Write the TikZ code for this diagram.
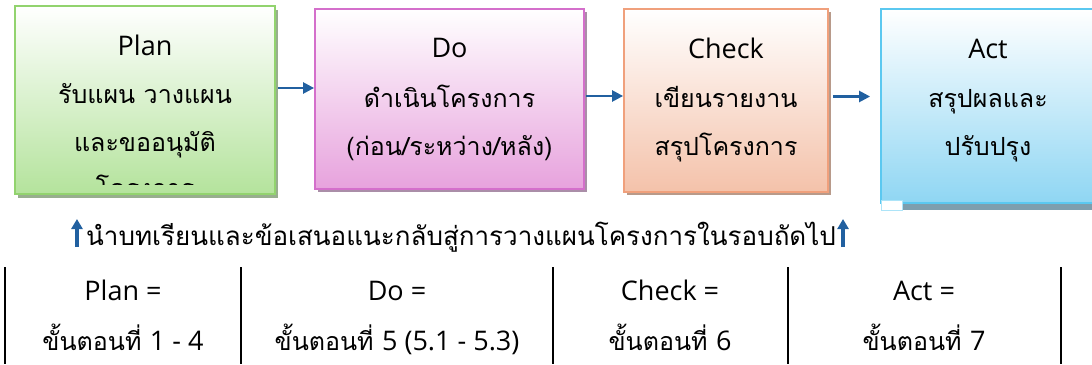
\documentclass[tikz,border=0pt]{standalone}
\usepackage{fontspec}
\setmainfont[Script=Thai]{Loma}
\newfontfamily\lat{Open Sans}
\newcommand{\latxt}[1]{{\lat\fontsize{27}{32}\selectfont #1}}
\usetikzlibrary{arrows.meta,calc}
\definecolor{planB}{HTML}{92D36E}
\definecolor{planF}{HTML}{B4E39C}
\definecolor{planS}{HTML}{98AE8E}
\definecolor{doB}{HTML}{D46FCB}
\definecolor{doF}{HTML}{E7A2DD}
\definecolor{doS}{HTML}{AA8EA8}
\definecolor{chB}{HTML}{F0A07C}
\definecolor{chF}{HTML}{F4C2AA}
\definecolor{chS}{HTML}{B89A8A}
\definecolor{actB}{HTML}{5BC8F0}
\definecolor{actF}{HTML}{8FD6F3}
\definecolor{actS}{HTML}{7E9EAE}
\definecolor{arrowC}{HTML}{2160A0}
\tikzset{
  box/.style={rectangle, line width=1.8pt, inner sep=0pt},
  txt/.style={anchor=base, inner sep=0pt, font=\fontsize{25}{30}\selectfont},
  flow/.style={draw=arrowC, line width=2.4pt, -{Triangle[length=11pt,width=11pt]}},
  up/.style={draw=arrowC, line width=3.6pt, -{Triangle[length=10pt,width=11pt]}},
  rule/.style={draw=black, line width=1.8pt}
}
\begin{document}
\begin{tikzpicture}[x=1pt,y=-1pt]
\useasboundingbox (0,0) rectangle (1092,364);
% shadows
\fill[planS] (18,10) rectangle (278,198);
\fill[doS] (318,12) rectangle (587,192);
\fill[chS] (627,12) rectangle (831,195);
\fill[actS] (884,12) rectangle (1100,210);
% boxes
\node[box, draw=planB, top color=white, bottom color=planF, minimum width=260pt, minimum height=188pt] (plan) at (145,100) {};
\node[box, draw=doB, top color=white, bottom color=doF, minimum width=269pt, minimum height=180pt] (do) at (449.5,99) {};
\node[box, draw=chB, top color=white, bottom color=chF, minimum width=204pt, minimum height=183pt] (check) at (726,100.5) {};
\node[box, draw=actB, top color=white, bottom color=actF, minimum width=230pt, minimum height=194pt] (act) at (996,106) {};
\fill[white, draw=actB!50, line width=0.6pt] (881,200.5) rectangle (902,210);
% Plan text
\node[txt] (p1) at (145,55) {\latxt{Plan}};
\node[txt] (p2) at (145,103) {รับแผน วางแผน};
\node[txt] (p3) at (145,151) {และขออนุมัติ};
\begin{scope}
\clip (15,0) rectangle (275,184);
\node[txt] (p4) at (145,197) {โครงการ};
\end{scope}
% Do text
\node[txt] (d1) at (449.5,57) {\latxt{Do}};
\node[txt] (d2) at (449.5,107) {ดำเนินโครงการ};
\node[txt] (d3) at (449.5,155) {(ก่อน/ระหว่าง/หลัง)};
% Check text
\node[txt] (c1) at (726,58) {\latxt{Check}};
\node[txt] (c2) at (726,107) {เขียนรายงาน};
\node[txt] (c3) at (726,155) {สรุปโครงการ};
% Act text
\node[txt] (a1) at (988,58) {\latxt{Act}};
\node[txt] (a2) at (988,107) {สรุปผลและ};
\node[txt] (a3) at (988,155) {ปรับปรุง};
% flow arrows
\draw[flow] ([xshift=2pt,yshift=12pt]plan.east) -- ([yshift=12pt]plan.east -| do.west);
\draw[flow] ([xshift=1pt,yshift=3pt]do.east) -- ([yshift=3pt]do.east -| check.west);
\draw[flow] ([xshift=4pt,yshift=4pt]check.east) -- ([xshift=-10pt,yshift=4pt]check.east -| act.west);
% feedback line
\node[txt, font=\fontsize{26}{30}\selectfont] (fb) at (461,245) {นำบทเรียนและข้อเสนอแนะกลับสู่การวางแผนโครงการในรอบถัดไป};
\coordinate (la0) at (fb.base west);
\draw[up] ([xshift=-9pt,yshift=-2pt]la0) -- ([xshift=-9pt,yshift=26pt]la0);
\coordinate (ra0) at (fb.base east);
\draw[up] ([xshift=7pt,yshift=-2pt]ra0) -- ([xshift=7pt,yshift=26pt]ra0);
% table
\coordinate (t0a) at (5,267); \coordinate (t0b) at (5,364);
\coordinate (t1a) at (241,267); \coordinate (t1b) at (241,364);
\coordinate (t2a) at (553,267); \coordinate (t2b) at (553,364);
\coordinate (t3a) at (788,267); \coordinate (t3b) at (788,364);
\coordinate (t4a) at (1061,267); \coordinate (t4b) at (1061,364);
\draw[rule] (t0a) -- (t0b);
\draw[rule] (t1a) -- (t1b);
\draw[rule] (t2a) -- (t2b);
\draw[rule] (t3a) -- (t3b);
\draw[rule] (t4a) -- (t4b);
\node[txt] (s1a) at (123,300) {\latxt{Plan =}};
\node[txt] (s1b) at (123,350) {ขั้นตอนที่ \latxt{1 - 4}};
\node[txt] (s2a) at (397,300) {\latxt{Do =}};
\node[txt] (s2b) at (397,350) {ขั้นตอนที่ \latxt{5 (5.1 - 5.3)}};
\node[txt] (s3a) at (670,300) {\latxt{Check =}};
\node[txt] (s3b) at (670,350) {ขั้นตอนที่ \latxt{6}};
\node[txt] (s4a) at (924,300) {\latxt{Act =}};
\node[txt] (s4b) at (924,350) {ขั้นตอนที่ \latxt{7}};
\end{tikzpicture}
\end{document}
